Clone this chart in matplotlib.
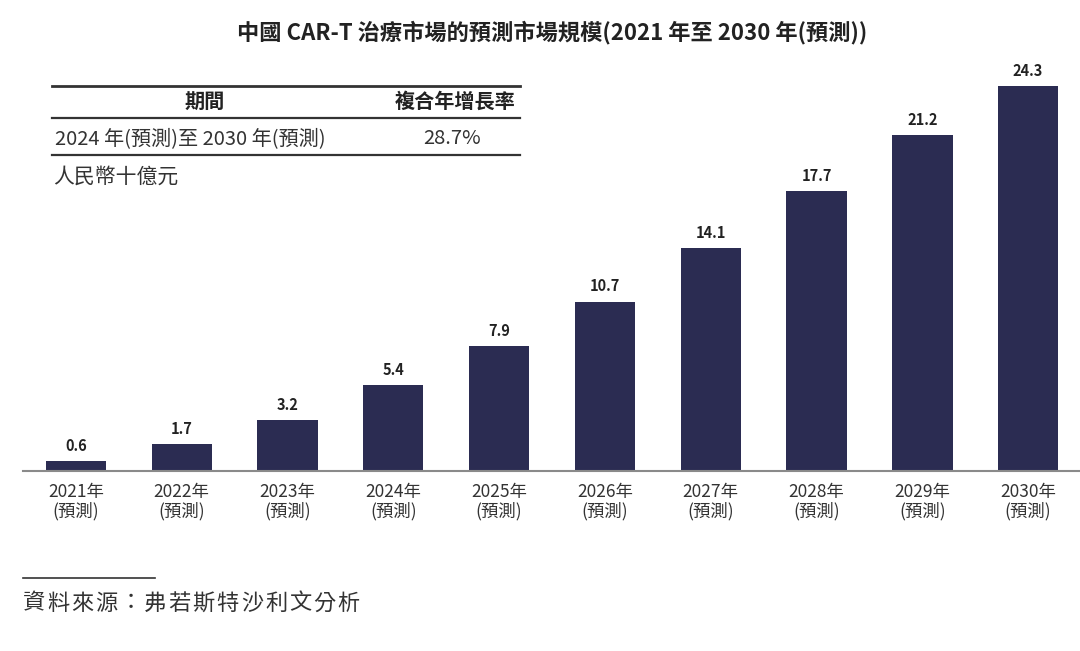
import matplotlib
matplotlib.use('Agg')
import matplotlib.pyplot as plt
from matplotlib.lines import Line2D

plt.rcParams['font.family'] = ['Noto Sans CJK TC', 'DejaVu Sans']

# data
years = ['2021年', '2022年', '2023年', '2024年', '2025年',
         '2026年', '2027年', '2028年', '2029年', '2030年']
sub_label = '(預測)'
market_size = [0.6, 1.7, 3.2, 5.4, 7.9, 10.7, 14.1, 17.7, 21.2, 24.3]

title = '中國 CAR-T 治療市場的預測市場規模(2021 年至 2030 年(預測))'
table_header = ['期間', '複合年增長率']
table_row = ['2024 年(預測)至 2030 年(預測)', '28.7%']
unit = '人民幣十億元'
source = '資料來源：弗若斯特沙利文分析'

W, H = 1080, 651
bar_color = '#2b2c52'
text_color = '#222222'

fig = plt.figure(figsize=(W / 100, H / 100), dpi=100)


def fx(x):
    return x / W


def fy(y):
    return 1 - y / H


# main axes: baseline at y=471, from x=23 to right edge
ax = fig.add_axes([fx(23), fy(471), 1 - fx(23), fy(60) - fy(471)])
x = list(range(len(years)))
ax.bar(x, market_size, width=0.57, color=bar_color)
ax.set_xlim(-0.5, 9.49)
ax.set_ylim(0, 25.95)
for i, v in enumerate(market_size):
    ax.text(i, v + 0.45, f'{v:.1f}', ha='center', va='bottom',
            fontsize=10.5, fontweight='bold', color=text_color)

for s in ['top', 'right', 'left']:
    ax.spines[s].set_visible(False)
ax.spines['bottom'].set_color('#8a8a8a')
ax.spines['bottom'].set_linewidth(1.5)
ax.set_yticks([])
ax.set_xticks(x)
ax.set_xticklabels([f'{y}\n{sub_label}' for y in years], fontsize=12.5,
                   color='#333333', linespacing=1.05)
ax.tick_params(axis='x', length=0, pad=9)

# title
fig.text(fx(552), fy(33), title, ha='center', va='center',
         fontsize=16, fontweight='bold', color=text_color)

# CAGR table
for yy, lw in [(86, 2.0), (118, 1.6), (155, 1.6)]:
    fig.add_artist(Line2D([fx(52), fx(520)], [fy(yy), fy(yy)],
                          color='#333333', lw=lw))
fig.text(fx(205), fy(101), table_header[0], ha='center', va='center',
         fontsize=14.5, fontweight='bold', color=text_color)
fig.text(fx(455), fy(101), table_header[1], ha='center', va='center',
         fontsize=14.5, fontweight='bold', color=text_color)
fig.text(fx(55), fy(139), table_row[0], ha='left', va='center',
         fontsize=14.5, color='#333333')
fig.text(fx(452), fy(139), table_row[1], ha='center', va='center',
         fontsize=14.5, color='#333333')
fig.text(fx(53), fy(177), unit, ha='left', va='center',
         fontsize=15, color='#333333')

# source (spaced-out characters like the original)
fig.add_artist(Line2D([fx(23), fx(155)], [fy(578), fy(578)],
                      color='#333333', lw=1.2))
for k, ch in enumerate(source):
    fig.text(fx(23 + k * 24.2), fy(603), ch, ha='left', va='center',
             fontsize=16, color='#333333')

fig.savefig('out.png', dpi=100)
